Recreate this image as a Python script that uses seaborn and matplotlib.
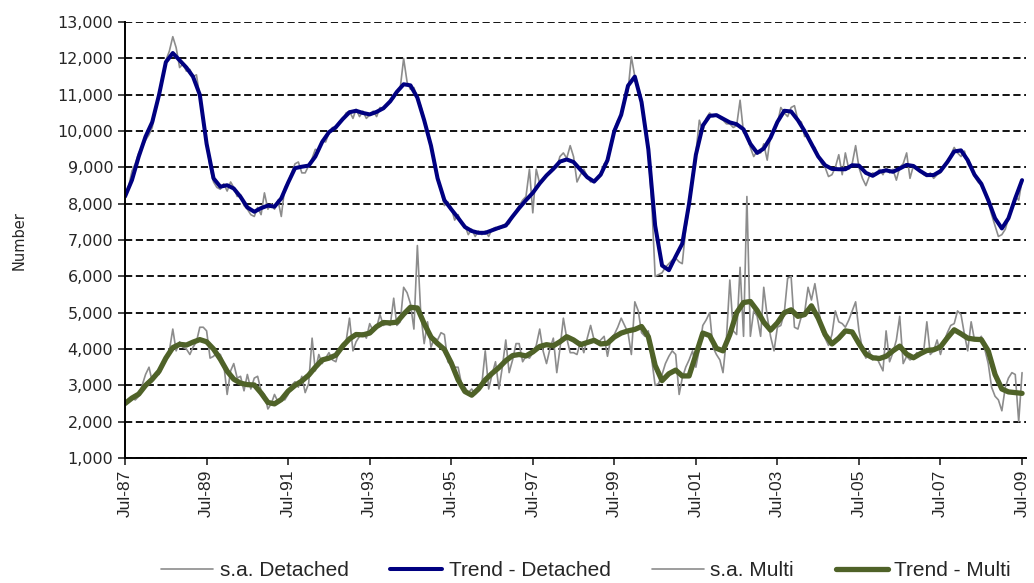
import numpy as np
import pandas as pd
import matplotlib
matplotlib.use("Agg")
from matplotlib import pyplot as plt
from matplotlib.ticker import FuncFormatter, MultipleLocator
import seaborn as sns


months = pd.date_range("1987-07-01", "2009-07-01", freq="MS")
trend_months = months[::2]

sa_detached = [
    8150, 8450, 8900, 9100, 9400, 9550, 9750, 9900, 10100, 10650, 11050, 11500,
    11950, 12200, 12600, 12300, 11750, 11850, 11650, 11700, 11500, 11550, 10950, 10300,
    9700, 9000, 8600, 8450, 8400, 8550, 8350, 8600, 8450, 8200, 8250, 7950,
    7850, 7700, 7650, 7900, 7700, 8300, 7850, 8000, 7850, 8100, 7650, 8450,
    8600, 8850, 9100, 9150, 8850, 8850, 9050, 9250, 9500, 9450, 9750, 9700,
    9950, 10100, 10050, 10250, 10300, 10500, 10550, 10350, 10600, 10400, 10550, 10350,
    10450, 10550, 10400, 10650, 10600, 10700, 10850, 10900, 11050, 11200, 12000, 11350,
    11150, 11200, 10900, 10700, 10350, 9900, 9550, 9200, 8650, 8350, 7950, 8050,
    7900, 7550, 7700, 7450, 7400, 7150, 7300, 7100, 7250, 7150, 7250, 7100,
    7300, 7350, 7300, 7400, 7450, 7450, 7650, 7800, 7950, 8100, 8200, 8950,
    7750, 8950, 8550, 8650, 8800, 8850, 9000, 9000, 9300, 9400, 9250, 9600,
    9300, 8600, 8800, 8950, 8750, 8600, 8650, 8700, 8800, 9100, 9150, 9650,
    10050, 10300, 10400, 10900, 11100, 12050, 11500, 11100, 10900, 10100, 9400, 8000,
    6000, 6050, 6100, 6250, 6350, 6450, 6500, 6400, 6350, 7300, 7900, 8800,
    9400, 10300, 10000, 10350, 10500, 10400, 10450, 10350, 10300, 10200, 10200, 10100,
    10150, 10850, 9950, 9900, 9550, 9300, 9450, 9400, 9650, 9200, 9900, 10000,
    10200, 10650, 10500, 10400, 10650, 10700, 10300, 10250, 9850, 9900, 9600, 9550,
    9300, 9100, 9000, 8750, 8800, 9000, 9350, 8800, 9400, 8950, 9100, 9600,
    9000, 8700, 8500, 8750, 8850, 8800, 8950, 8800, 9000, 8850, 8950, 8650,
    9000, 9100, 9400, 8700, 9050, 8950, 8900, 8800, 8750, 8850, 8700, 8800,
    8850, 9050, 9150, 9350, 9550, 9400, 9300, 9450, 9100, 8950, 8750, 8600,
    8500, 8300, 8050, 7700, 7400, 7100, 7150, 7300, 7600, 7900, 8200, 8100,
    8650,
]

trend_detached = [
    8200, 8650, 9300, 9850, 10250, 11000, 11900, 12150, 11950, 11750, 11500, 11000,
    9650, 8700, 8470, 8510, 8420, 8190, 7900, 7780, 7880, 7950, 7920, 8150,
    8580, 8980, 9020, 9050, 9300, 9700, 9970, 10110, 10330, 10520, 10560, 10500,
    10460, 10530, 10630, 10820, 11080, 11290, 11260, 10920, 10300, 9600, 8700, 8100,
    7850, 7610, 7360, 7250, 7200, 7200, 7270, 7340, 7400, 7650, 7880, 8100,
    8300, 8560, 8780, 8960, 9160, 9220, 9150, 8940, 8730, 8610, 8800, 9200,
    10000, 10450, 11250, 11500, 10800, 9500, 7400, 6300, 6170, 6550, 6900, 8000,
    9350, 10150, 10420, 10440, 10340, 10240, 10190, 10050, 9650, 9400, 9520, 9820,
    10250, 10560, 10540, 10300, 10000, 9650, 9300, 9060, 8960, 8950, 8950, 9060,
    9050, 8850, 8770, 8880, 8920, 8880, 8970, 9070, 9040, 8900, 8790, 8790,
    8900, 9150, 9440, 9470, 9200, 8800, 8550, 8100, 7600, 7320, 7600, 8150,
    8650,
]

sa_multi = [
    2450, 2550, 2650, 2600, 2700, 3000, 3300, 3500, 3100, 3350, 3300, 3600,
    3700, 3950, 4550, 3950, 4200, 4050, 4000, 3850, 4050, 4200, 4600, 4600,
    4500, 3750, 3800, 3900, 3850, 3600, 2750, 3400, 3600, 3200, 3250, 2850,
    3300, 2900, 3200, 3250, 2850, 2750, 2350, 2500, 2750, 2550, 2650, 2600,
    2750, 3000, 3100, 2950, 3250, 2800, 3050, 4300, 3400, 3850, 3600, 3750,
    3900, 3700, 3650, 4000, 4150, 4200, 4850, 3950, 4200, 4350, 4450, 4300,
    4700, 4500, 4600, 4950, 4650, 4700, 4650, 5400, 4650, 4750, 5700, 5550,
    5250, 4550, 6850, 5000, 4150, 4750, 4050, 4300, 4250, 4450, 4400, 3650,
    3550, 3500, 3500, 3050, 2950, 2800, 2900, 2750, 2850, 3050, 3950, 2900,
    3300, 3650, 2900, 3500, 4250, 3350, 3700, 4150, 4150, 3650, 3800, 3750,
    3900, 4100, 4550, 3950, 3600, 4000, 4300, 3350, 4000, 4850, 4300, 3900,
    3900, 3850, 4200, 3900, 4300, 4650, 4250, 4150, 4250, 4350, 3800, 4300,
    4400, 4600, 4850, 4650, 4450, 3850, 5300, 5050, 4450, 4350, 4500, 3700,
    3000, 3050, 3300, 3600, 3800, 3950, 3850, 2750, 3200, 3500, 3700, 3950,
    3500, 4000, 4650, 4800, 5000, 4050, 3850, 3700, 3350, 4300, 5900, 4500,
    4400, 6250, 4350, 8200, 4350, 5050, 4900, 4350, 5700, 4900, 4350, 3950,
    4600, 4650, 5000, 5950, 6000, 4600, 4550, 4900, 5000, 5700, 5350, 5800,
    5200, 4500, 4300, 4100, 4400, 5050, 4750, 4700, 4600, 4800, 5050, 5300,
    4500, 4000, 3750, 3950, 3700, 3800, 3600, 3400, 4500, 3650, 3900, 4250,
    4900, 3600, 3800, 3700, 3750, 3900, 3850, 3950, 4750, 3850, 3950, 4250,
    3850, 4200, 4450, 4650, 4700, 5050, 4950, 4400, 3950, 4750, 4250, 4250,
    4350, 4000, 3600, 2950, 2700, 2600, 2300, 2950, 3200, 3350, 3300, 2000,
    3350,
]

trend_multi = [
    2500, 2650, 2760, 3000, 3170, 3390, 3750, 4040, 4130, 4110, 4190, 4260,
    4200, 4000, 3720, 3390, 3170, 3060, 3020, 3010, 2790, 2530, 2490, 2610,
    2840, 3000, 3120, 3280, 3500, 3700, 3750, 3830, 4080, 4280, 4400, 4390,
    4440, 4620, 4730, 4720, 4740, 4960, 5150, 5130, 4700, 4330, 4150, 3990,
    3620, 3150, 2830, 2730, 2900, 3150, 3330, 3490, 3680, 3820, 3850, 3810,
    3920, 4070, 4120, 4090, 4200, 4340, 4250, 4120, 4180, 4240, 4140, 4160,
    4330, 4440, 4500, 4540, 4620, 4340, 3550, 3130, 3320, 3420, 3260, 3260,
    3850, 4440, 4370, 4020, 3950, 4400, 5000, 5280, 5310, 5060, 4740, 4520,
    4720, 5000, 5080, 4900, 4950, 5190, 4850, 4400, 4140, 4300, 4500, 4470,
    4150, 3860, 3760, 3740, 3800, 3950, 4080, 3860, 3760, 3870, 3960, 3980,
    4060, 4310, 4530, 4420, 4300, 4270, 4260, 3950, 3300, 2900, 2820, 2800,
    2780,
]

tick_labels = ["Jul-87", "Jul-89", "Jul-91", "Jul-93", "Jul-95", "Jul-97",
               "Jul-99", "Jul-01", "Jul-03", "Jul-05", "Jul-07", "Jul-09"]

df = pd.DataFrame({"date": months, "sa_detached": sa_detached, "sa_multi": sa_multi})
df_trend = pd.DataFrame({"date": trend_months, "trend_detached": trend_detached,
                         "trend_multi": trend_multi})

sns.set_style("white")
narrow = ["Liberation Sans", "DejaVu Sans"]
plt.rcParams["font.family"] = ["DejaVu Sans"]

fig, ax = plt.subplots(figsize=(10.34, 5.83), dpi=100)
fig.subplots_adjust(left=0.1209, right=0.9918, top=0.962, bottom=0.2144)

grey = "#8c8c8c"
sns.lineplot(data=df, x="date", y="sa_detached", color=grey, linewidth=1.2,
             label="s.a. Detached", ax=ax)
sns.lineplot(data=df_trend, x="date", y="trend_detached", color="#000080", linewidth=2.9,
             label="Trend - Detached", ax=ax)
sns.lineplot(data=df, x="date", y="sa_multi", color=grey, linewidth=1.2,
             label="s.a. Multi", ax=ax)
sns.lineplot(data=df_trend, x="date", y="trend_multi", color="#4f6228", linewidth=3.8,
             label="Trend - Multi", ax=ax)

ax.set_ylim(1000, 13000)
ax.set_xlim(months[0], pd.Timestamp("2009-08-01"))
ax.yaxis.set_major_locator(MultipleLocator(1000))
ax.yaxis.set_major_formatter(FuncFormatter(lambda v, p: f"{v:,.0f}"))
ax.set_xticks(months[::24])
ax.set_xticklabels(tick_labels, rotation=90, fontsize=12.5, family=narrow)
ax.tick_params(axis="y", labelsize=11.5, length=5, width=1.2, direction="out", left=True)
ax.tick_params(axis="x", length=5, width=1.2, direction="out", bottom=True)

ax.grid(axis="y", color="black", linestyle=(0, (4, 2)), linewidth=1.3)
ax.set_axisbelow(True)
for side in ["top", "right"]:
    ax.spines[side].set_visible(False)
for side in ["left", "bottom"]:
    ax.spines[side].set_color("black")
    ax.spines[side].set_linewidth(1.4)

ax.set_xlabel("")
ax.set_ylabel("Number", fontsize=10.5, labelpad=22)

ax.legend(loc="center", bbox_to_anchor=(0.512, -0.259), ncol=4, frameon=False,
          prop={"family": narrow, "size": 15}, handlelength=2.5, handletextpad=0.3,
          columnspacing=2.0)

fig.savefig("out.png", dpi=100)
